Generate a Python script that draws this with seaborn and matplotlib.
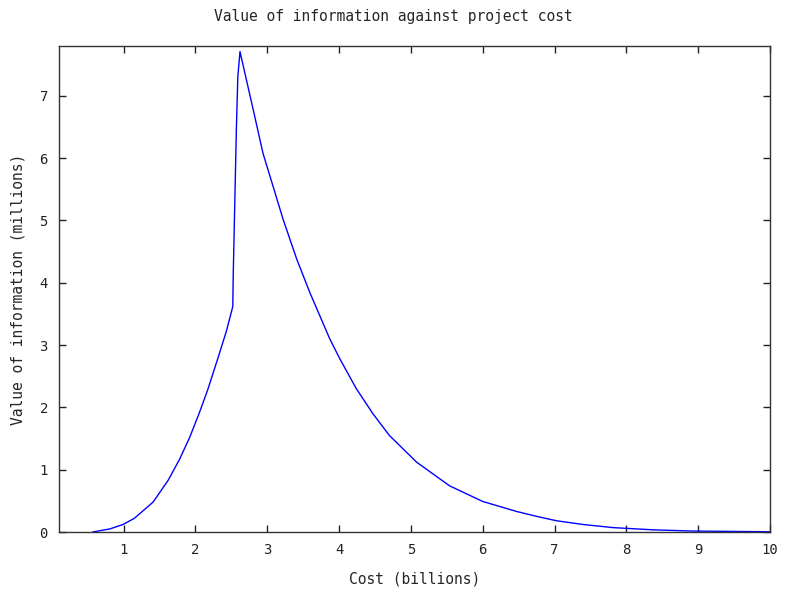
import matplotlib
matplotlib.use("Agg")
import matplotlib.pyplot as plt
import seaborn as sns
import pandas as pd

# Cost in billions vs value of information in millions
cost = [0.57, 0.81, 0.99, 1.15, 1.41, 1.62, 1.78, 1.92, 2.05, 2.17,
        2.31, 2.43, 2.52,
        2.525, 2.54, 2.555, 2.57, 2.59, 2.62,
        2.80, 2.94, 3.08, 3.22, 3.41, 3.59, 3.87, 4.01, 4.24, 4.47,
        4.70, 5.08, 5.54, 6.00, 6.47, 6.79, 7.03, 7.40, 7.82, 8.37,
        8.93, 10.0]
value = [0.00, 0.05, 0.12, 0.22, 0.48, 0.83, 1.17, 1.52, 1.90, 2.28,
         2.78, 3.22, 3.62,
         4.07, 4.87, 5.68, 6.48, 7.31, 7.71,
         6.80, 6.08, 5.55, 5.02, 4.38, 3.85, 3.10, 2.78, 2.30, 1.90,
         1.55, 1.12, 0.74, 0.49, 0.33, 0.24, 0.18, 0.12, 0.07, 0.035,
         0.015, 0.004]

df = pd.DataFrame({"cost": cost, "value": value})

sns.set_style("ticks")
plt.rcParams["font.family"] = ["DejaVu Sans Mono"]

fig = plt.figure(figsize=(7.86, 5.94), dpi=100)
ax = fig.add_axes([59 / 786, 1 - 532 / 594, (770 - 59) / 786, (532 - 46) / 594])

sns.lineplot(data=df, x="cost", y="value", color="#0000ff", linewidth=1.0, ax=ax)

ax.set_xlim(0.1, 10)
ax.set_ylim(0, 7.8)
ax.set_xticks(range(1, 11))
ax.set_yticks(range(0, 8))
ax.tick_params(direction="in", top=True, right=True, length=5, width=1,
               labelsize=10, colors="#222222", pad=8)
for s in ax.spines.values():
    s.set_color("#333333")
    s.set_linewidth(1.0)

ax.set_xlabel("Cost (billions)", fontsize=10.5, labelpad=10)
ax.set_ylabel("Value of information (millions)", fontsize=10.5, labelpad=10)
fig.suptitle("Value of information against project cost", fontsize=10.5, y=0.985)

fig.savefig("out.png", dpi=100)
